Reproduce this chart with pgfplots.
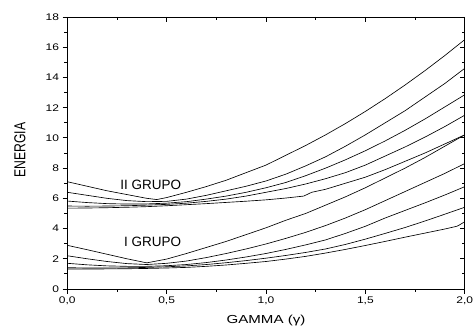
\documentclass[border=0pt]{standalone}
\usepackage{fontspec}
\setmainfont{Liberation Sans}
\usepackage{graphicx}
\usepackage{pgfplots}
\pgfplotsset{compat=1.18}
\begin{document}
\begin{tikzpicture}
\pgfplotsset{
  common/.style={
    scale only axis, width=397.4bp, height=272bp,
    xmin=0, xmax=2, ymin=0, ymax=18,
    xtick={0,0.5,1,1.5,2}, ytick={0,2,4,6,8,10,12,14,16,18},
    minor x tick num=1, minor y tick num=1,
    major tick length=4.7bp, minor tick length=2.8bp,
    axis line style={line width=0.9bp},
    every tick/.style={black, line width=0.8bp},
  }
}
\begin{axis}[common,
  xtick pos=left, ytick pos=left, tick align=outside,
  /pgf/number format/assume math mode=true,
  tick label style={font=\fontsize{9.6bp}{10bp}\selectfont},
  xticklabel={\scalebox{1.25}[1]{\pgfmathprintnumber[fixed,fixed zerofill,precision=1,use comma,assume math mode=true]{\tick}}},
  yticklabel={\scalebox{1.25}[1]{\pgfmathprintnumber[assume math mode=true]{\tick}}},
  xlabel={\scalebox{1.3}[1]{GAMMA (γ)}}, ylabel={\scalebox{1}[1.3]{ENERGIA}},
  xlabel style={font=\fontsize{11.6bp}{13bp}\selectfont, at={(axis description cs:0.5,-0.114)}, anchor=center},
  ylabel style={font=\fontsize{12.2bp}{13bp}\selectfont, at={(axis description cs:-0.119,0.511)}, anchor=center},
  cycle list={{black, solid}},
  every axis plot post/.append style={black, solid, line width=0.65bp, mark=none},
]
% Group I
\addplot coordinates {(0,2.89)(0.1,2.6)(0.2,2.3)(0.3,2.0)(0.4,1.73)(0.5,1.98)(0.6,2.35)(0.7,2.75)(0.8,3.15)(0.9,3.6)(1.0,4.05)(1.1,4.55)(1.2,5.0)(1.3,5.55)(1.4,6.1)(1.5,6.7)(1.6,7.35)(1.7,8.0)(1.8,8.7)(1.9,9.45)(2.0,10.2)};
\addplot coordinates {(0,2.2)(0.1,2.0)(0.2,1.82)(0.3,1.68)(0.4,1.62)(0.5,1.7)(0.6,1.85)(0.7,2.08)(0.8,2.35)(0.9,2.65)(1.0,2.98)(1.1,3.35)(1.2,3.75)(1.3,4.2)(1.4,4.7)(1.5,5.25)(1.6,5.85)(1.7,6.45)(1.8,7.05)(1.9,7.65)(2.0,8.3)};
\addplot coordinates {(0,1.7)(0.1,1.6)(0.2,1.53)(0.3,1.5)(0.4,1.5)(0.5,1.54)(0.6,1.62)(0.7,1.75)(0.8,1.92)(0.9,2.12)(1.0,2.35)(1.1,2.62)(1.2,2.92)(1.3,3.25)(1.4,3.68)(1.5,4.15)(1.6,4.7)(1.7,5.2)(1.8,5.7)(1.9,6.22)(2.0,6.77)};
\addplot coordinates {(0,1.41)(0.1,1.39)(0.2,1.39)(0.3,1.4)(0.4,1.43)(0.5,1.47)(0.6,1.53)(0.7,1.62)(0.8,1.74)(0.9,1.88)(1.0,2.04)(1.1,2.22)(1.2,2.42)(1.3,2.65)(1.4,2.95)(1.5,3.3)(1.6,3.68)(1.7,4.07)(1.8,4.5)(1.9,4.95)(2.0,5.41)};
\addplot coordinates {(0,1.32)(0.1,1.32)(0.2,1.33)(0.3,1.34)(0.4,1.36)(0.5,1.39)(0.6,1.43)(0.7,1.5)(0.8,1.59)(0.9,1.7)(1.0,1.82)(1.1,1.98)(1.2,2.16)(1.3,2.38)(1.4,2.62)(1.5,2.88)(1.6,3.15)(1.7,3.43)(1.8,3.7)(1.9,3.97)(1.96,4.15)(1.975,4.25)(2.0,4.45)};
% Group II
\addplot coordinates {(0,7.1)(0.1,6.8)(0.2,6.5)(0.3,6.25)(0.4,6.0)(0.45,5.92)(0.5,6.05)(0.6,6.4)(0.7,6.78)(0.8,7.2)(0.9,7.7)(1.0,8.2)(1.1,8.85)(1.2,9.5)(1.3,10.2)(1.4,10.95)(1.5,11.75)(1.6,12.6)(1.7,13.5)(1.8,14.45)(1.9,15.45)(2.0,16.5)};
\addplot coordinates {(0,6.4)(0.1,6.2)(0.2,6.0)(0.3,5.85)(0.4,5.78)(0.5,5.8)(0.6,5.95)(0.7,6.2)(0.8,6.5)(0.9,6.8)(1.0,7.15)(1.1,7.6)(1.2,8.15)(1.3,8.75)(1.4,9.45)(1.5,10.2)(1.6,11.0)(1.7,11.8)(1.8,12.7)(1.9,13.6)(2.0,14.6)};
\addplot coordinates {(0,5.82)(0.1,5.72)(0.2,5.65)(0.3,5.62)(0.4,5.63)(0.5,5.68)(0.6,5.78)(0.7,5.95)(0.8,6.15)(0.9,6.4)(1.0,6.7)(1.1,7.05)(1.2,7.5)(1.3,8.0)(1.4,8.55)(1.5,9.15)(1.6,9.8)(1.7,10.5)(1.8,11.25)(1.9,12.05)(2.0,12.85)};
\addplot coordinates {(0,5.49)(0.1,5.48)(0.2,5.49)(0.3,5.51)(0.4,5.55)(0.5,5.6)(0.6,5.68)(0.7,5.8)(0.8,5.95)(0.9,6.15)(1.0,6.4)(1.1,6.65)(1.2,6.95)(1.3,7.3)(1.4,7.7)(1.5,8.2)(1.6,8.8)(1.7,9.4)(1.8,10.05)(1.9,10.75)(2.0,11.5)};
\addplot coordinates {(0,5.35)(0.1,5.36)(0.2,5.38)(0.3,5.41)(0.4,5.45)(0.5,5.51)(0.6,5.58)(0.7,5.65)(0.8,5.73)(0.9,5.81)(1.0,5.9)(1.1,6.02)(1.19,6.15)(1.23,6.4)(1.3,6.6)(1.4,7.0)(1.5,7.4)(1.6,7.9)(1.7,8.45)(1.8,9.0)(1.9,9.6)(2.0,10.2)};
\node[font=\fontsize{13.5bp}{15bp}\selectfont] at (axis cs:0.42,6.9) {II GRUPO};
\node[font=\fontsize{13.5bp}{15bp}\selectfont] at (axis cs:0.43,3.1) {I GRUPO};
\end{axis}
\begin{axis}[common,
  xtick pos=right, ytick pos=right, tick align=inside,
  xticklabels={}, yticklabels={},
]
\end{axis}
\pgfresetboundingbox
\path ([shift={(-67.3bp,-43bp)}]current axis.south west) rectangle ([shift={(9.3bp,17bp)}]current axis.north east);
\end{tikzpicture}
\end{document}
